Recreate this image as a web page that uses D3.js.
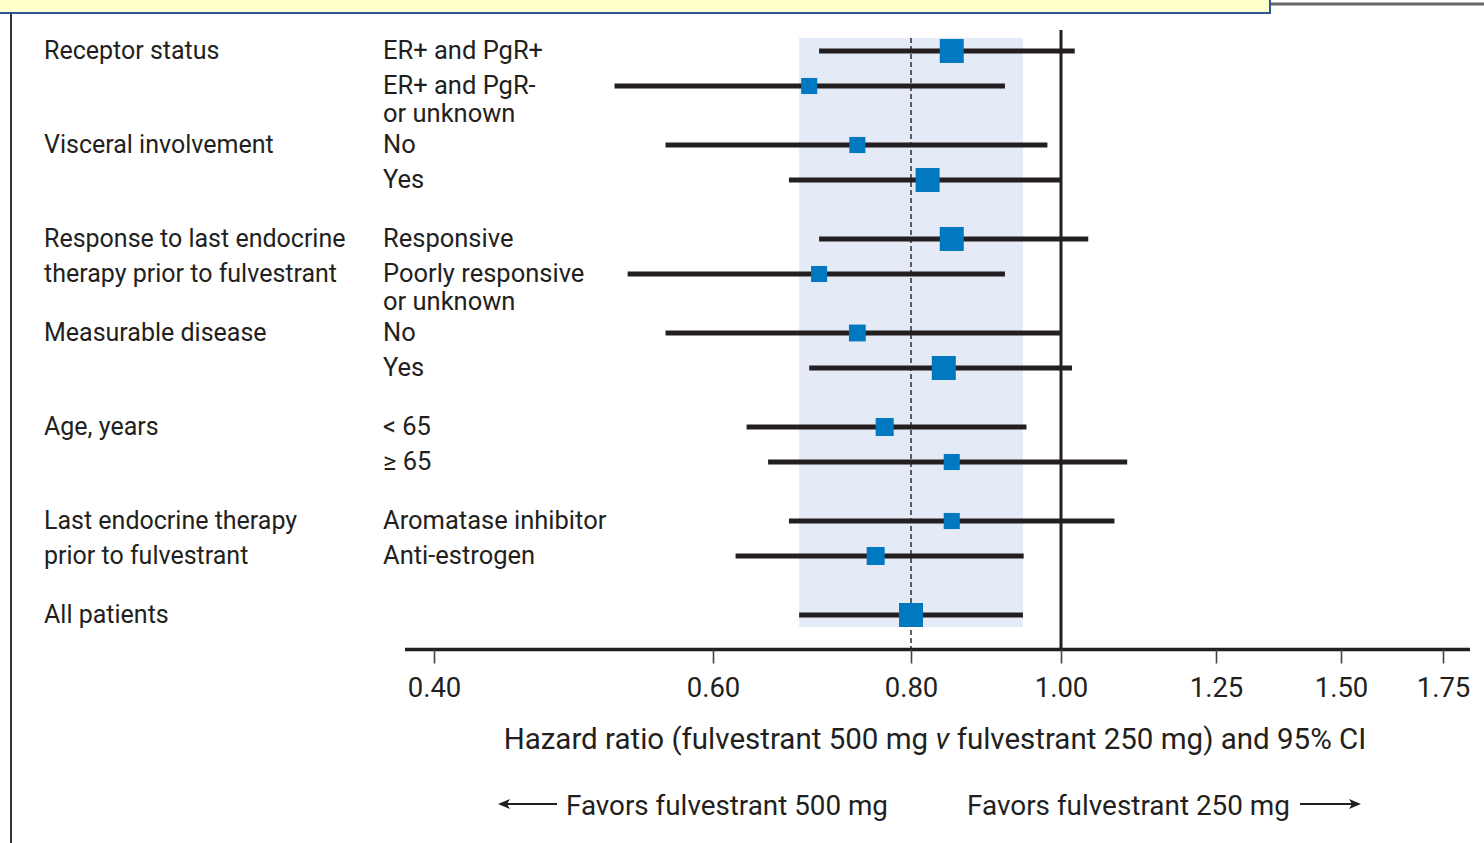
<!DOCTYPE html>
<html>
<head>
<meta charset="utf-8">
<script src="https://cdn.jsdelivr.net/npm/d3@7"></script>
<style>
  html, body { margin: 0; padding: 0; background: #ffffff; }
  svg { display: block; }
  text { font-family: Roboto, "Liberation Sans", Arial, sans-serif; fill: #231f20; }
</style>
</head>
<body>
<svg id="chart" width="1484" height="843"></svg>
<script>
// ---------------- data ----------------
const groupLabels = [
  ["Receptor status"],
  ["Visceral involvement"],
  ["Response to last endocrine", "therapy prior to fulvestrant"],
  ["Measurable disease"],
  ["Age, years"],
  ["Last endocrine therapy", "prior to fulvestrant"],
  ["All patients"]
];
const subgroupLabels = [
  ["ER+ and PgR+"],
  ["ER+ and PgR-", "or unknown"],
  ["No"],
  ["Yes"],
  ["Responsive"],
  ["Poorly responsive", "or unknown"],
  ["No"],
  ["Yes"],
  ["< 65"],
  ["\u2265 65"],
  ["Aromatase inhibitor"],
  ["Anti-estrogen"],
  []
];
const groupOf      = [0, 0, 1, 1, 2, 2, 3, 3, 4, 4, 5, 5, 6];
const hazardRatio  = [0.85, 0.69, 0.74, 0.82, 0.85, 0.70, 0.74, 0.84, 0.77, 0.85, 0.85, 0.76, 0.80];
const ciLower      = [0.70, 0.52, 0.56, 0.67, 0.70, 0.53, 0.56, 0.69, 0.63, 0.65, 0.67, 0.62, 0.68];
const ciUpper      = [1.02, 0.92, 0.98, 1.00, 1.04, 0.92, 1.00, 1.016, 0.95, 1.10, 1.08, 0.946, 0.945];
const weight       = [1.0, 0.67, 0.67, 1.0, 1.0, 0.67, 0.7, 1.0, 0.75, 0.67, 0.67, 0.75, 1.0];
const tickValues   = [0.40, 0.60, 0.80, 1.00, 1.25, 1.50, 1.75];
const overallIndex = 12;
const axisTitle    = ["Hazard ratio (fulvestrant 500 mg ", "v", " fulvestrant 250 mg) and 95% CI"];
const favorsLeft   = "Favors fulvestrant 500 mg";
const favorsRight  = "Favors fulvestrant 250 mg";

// ---------------- layout ----------------
const svg = d3.select("#chart");
const ink = "#231f20";
const blue = "#0079c1";
const band = "#e4eaf6";

// log axis, calibrated at its printed ticks
const axisEnds = [0.383, 1.815];
const x = d3.scaleLog()
  .domain([axisEnds[0], ...tickValues, axisEnds[1]])
  .range([405, 434, 713, 911, 1061, 1216, 1341, 1443, 1470]);

const gapRatio = 24 / 35;
const slot = (i) => i + groupOf[i] * gapRatio;
const maxSlot = slot(hazardRatio.length - 1);
const y = d3.scaleLinear().domain([0, maxSlot]).range([51, 615]);
const rowStep = y(1) - y(0);
const size = d3.scaleLinear().domain([0, 1]).range([0, 24]);

const axisY = 649.5;

// page decorations (banner on top, frame on left)
svg.append("rect").attr("x", -2).attr("y", -2).attr("width", 1272).attr("height", 15)
  .attr("fill", "#ffffcc").attr("stroke", "#2f5597").attr("stroke-width", 2);
svg.append("line").attr("x1", 1271).attr("x2", 1484).attr("y1", 4).attr("y2", 4)
  .attr("stroke", "#666").attr("stroke-width", 3);
svg.append("line").attr("x1", 11).attr("x2", 11).attr("y1", 14).attr("y2", 843)
  .attr("stroke", "#333").attr("stroke-width", 2);

// shaded band = overall CI
svg.append("rect")
  .attr("x", x(ciLower[overallIndex]))
  .attr("width", x(ciUpper[overallIndex]) - x(ciLower[overallIndex]))
  .attr("y", y(0) - 13)
  .attr("height", y(maxSlot) + 12 - (y(0) - 13))
  .attr("fill", band);

// dashed line at overall HR
svg.append("line")
  .attr("x1", x(hazardRatio[overallIndex])).attr("x2", x(hazardRatio[overallIndex]))
  .attr("y1", y(0) - 13).attr("y2", axisY)
  .attr("stroke", ink).attr("stroke-width", 1.4).attr("stroke-dasharray", "5,3");

// line of no effect
svg.append("line")
  .attr("x1", x(1)).attr("x2", x(1))
  .attr("y1", 30).attr("y2", axisY)
  .attr("stroke", ink).attr("stroke-width", 3);

// axis
const axis = d3.axisBottom(x)
  .tickValues(tickValues)
  .tickFormat(d3.format(".2f"))
  .tickSize(14)
  .tickPadding(0);
const gAxis = svg.append("g").attr("transform", `translate(0,${axisY})`).call(axis);
gAxis.select(".domain").attr("stroke", ink).attr("stroke-width", 3.5)
  .attr("d", `M${x(axisEnds[0])},0H${x(axisEnds[1])}`);
gAxis.selectAll(".tick line").attr("stroke", "#444").attr("stroke-width", 1.6);
gAxis.selectAll(".tick text")
  .attr("y", 47.5).attr("dy", null)
  .style("font-family", "Roboto, 'Liberation Sans', Arial, sans-serif")
  .style("font-size", "27.5px").attr("fill", ink);

// CI lines
const rows = d3.range(hazardRatio.length);
svg.append("g").selectAll("line").data(rows).join("line")
  .attr("x1", i => x(ciLower[i])).attr("x2", i => x(ciUpper[i]))
  .attr("y1", i => y(slot(i))).attr("y2", i => y(slot(i)))
  .attr("stroke", ink).attr("stroke-width", 5);

// squares
svg.append("g").selectAll("rect").data(rows).join("rect")
  .attr("x", i => x(hazardRatio[i]) - size(weight[i]) / 2)
  .attr("y", i => y(slot(i)) - size(weight[i]) / 2)
  .attr("width", i => size(weight[i]))
  .attr("height", i => size(weight[i]))
  .attr("fill", blue);

// group labels (left column)
const firstRowOfGroup = groupLabels.map((_, g) => groupOf.indexOf(g));
groupLabels.forEach((lines, g) => {
  const y0 = y(slot(firstRowOfGroup[g]));
  lines.forEach((t, k) => {
    svg.append("text").attr("x", 44).attr("y", y0 + k * rowStep + 8)
      .style("font-size", "25px").text(t);
  });
});

// subgroup labels (middle column)
subgroupLabels.forEach((lines, i) => {
  const y0 = y(slot(i));
  lines.forEach((t, k) => {
    svg.append("text").attr("x", 383).attr("y", y0 + k * 28 + 8)
      .style("font-size", "25.5px").text(t);
  });
});

// axis title
const title = svg.append("text").attr("x", 935).attr("y", 749)
  .attr("text-anchor", "middle").style("font-size", "29.5px");
title.append("tspan").text(axisTitle[0]);
title.append("tspan").style("font-style", "italic").text(axisTitle[1]);
title.append("tspan").text(axisTitle[2]);

// favors annotations with arrows
const arrowY = 804;
svg.append("text").attr("x", 566).attr("y", 815).style("font-size", "28.5px")
  .attr("textLength", 322).attr("lengthAdjust", "spacingAndGlyphs").text(favorsLeft);
svg.append("text").attr("x", 967).attr("y", 815).style("font-size", "28.5px")
  .attr("textLength", 323).attr("lengthAdjust", "spacingAndGlyphs").text(favorsRight);

svg.append("line").attr("x1", 506).attr("x2", 557).attr("y1", arrowY).attr("y2", arrowY)
  .attr("stroke", ink).attr("stroke-width", 1.8);
svg.append("path").attr("d", `M498,${arrowY}L510,${arrowY - 5}L507,${arrowY}L510,${arrowY + 5}Z`).attr("fill", ink);
svg.append("line").attr("x1", 1300).attr("x2", 1352).attr("y1", arrowY).attr("y2", arrowY)
  .attr("stroke", ink).attr("stroke-width", 1.8);
svg.append("path").attr("d", `M1361,${arrowY}L1349,${arrowY - 5}L1352,${arrowY}L1349,${arrowY + 5}Z`).attr("fill", ink);
</script>
</body>
</html>
